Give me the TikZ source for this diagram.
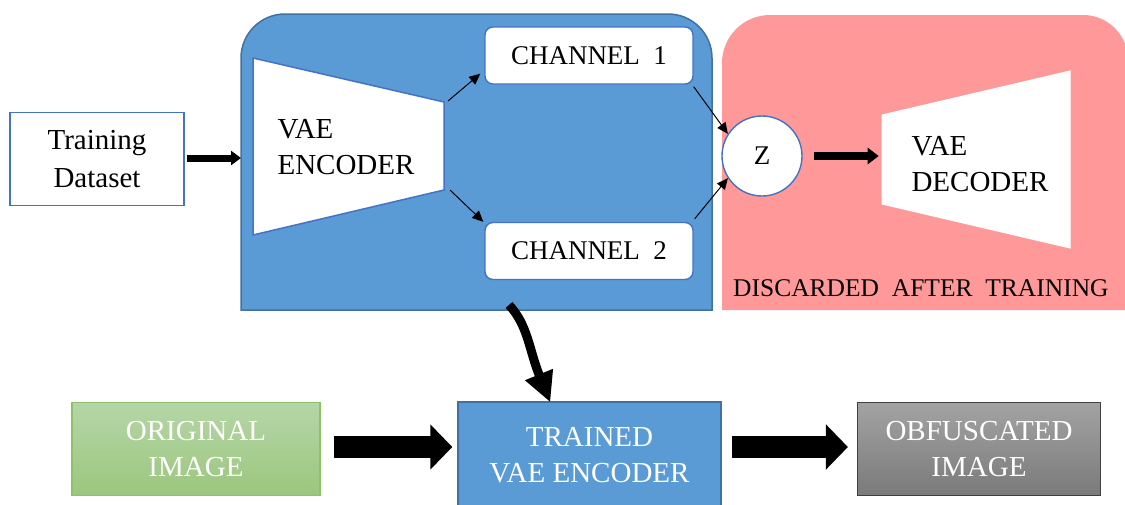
\documentclass[tikz,border=0pt]{standalone}
\usepackage{fontspec}
\setmainfont{Liberation Serif}
\usetikzlibrary{arrows.meta,calc}

\definecolor{encfill}{HTML}{5B9BD5}
\definecolor{encline}{HTML}{41719C}
\definecolor{boxline}{HTML}{4472C4}
\definecolor{decfill}{HTML}{FF9999}
\definecolor{greentop}{HTML}{B5D6A7}
\definecolor{greenbot}{HTML}{9CC67E}
\definecolor{greenline}{HTML}{8CC36A}
\definecolor{greytop}{HTML}{A3A3A3}
\definecolor{greybot}{HTML}{7A7A7A}

\tikzset{
  bigtext/.style={font=\rmfamily\fontsize{29}{36}\selectfont},
  chantext/.style={font=\rmfamily\fontsize{27}{30}\selectfont},
  whitebox/.style={draw=boxline, line width=1.6pt, fill=white, inner sep=0pt},
  chanbox/.style={draw=boxline, line width=1.4pt, fill=white, rounded corners=8pt,
    minimum width=208pt, minimum height=57pt, chantext},
  stage/.style={line width=1.4pt, inner sep=0pt, minimum width=248pt, minimum height=93pt,
    text=white, align=center, bigtext},
  thin arrow/.style={line width=1pt, -{Triangle[length=11pt,width=10pt]}},
  mid arrow/.style={line width=7pt, -{Triangle[length=10pt,width=14pt]}},
  fat arrow/.style={line width=22pt, -{Triangle[length=22pt,width=44pt]}},
  bend arrow/.style={line width=9pt, -{Triangle[length=30pt,width=28pt]}},
}

\begin{document}
\begin{tikzpicture}[x=1pt, y=-1pt]
\useasboundingbox (0,0) rectangle (1125,504);

% encoder panel (blue, rounded top corners)
\path[fill=encfill, draw=encline, line width=1.5pt]
  (241,310) -- (241,58) arc[start angle=180, end angle=270, radius=44]
  -- (668,14) arc[start angle=270, end angle=360, radius=44] -- (712,310) -- cycle;

% decoder panel (red, discarded after training)
\path[fill=decfill]
  (722,310) -- (722,63) arc[start angle=180, end angle=270, radius=48]
  -- (1083,15) arc[start angle=270, end angle=360, radius=45] -- (1128,310) -- cycle;

% training data
\node[whitebox, minimum width=174pt, minimum height=93pt, align=center,
  font=\rmfamily\fontsize{29}{38}\selectfont]
  (train) at (97,159) {Training\\Dataset};

% encoder trapezoid
\draw[fill=white, draw=boxline, line width=1.5pt]
  (253,58) -- (444,102) -- (444,190) -- (253,235) -- cycle;
\coordinate (encin) at (241,158);
\coordinate (encTR) at (448,101);
\coordinate (encBR) at (450,190);
\node[bigtext, anchor=west, align=left] (enctext) at (274,147) {VAE\\ENCODER};

% channels
\node[chanbox] (ch1) at (589,55.5) {CHANNEL\ \ 1};
\node[chanbox] (ch2) at (589,251) {CHANNEL\ \ 2};

% latent
\node[circle, draw=boxline, line width=1.4pt, fill=white, minimum size=80pt, inner sep=0pt,
  chantext] (z) at (762,156) {Z};

% decoder trapezoid
\draw[fill=white, draw=white, line width=1pt]
  (882,115) -- (1070,71) -- (1070,248) -- (882,204) -- cycle;
\node[bigtext, anchor=west, align=left] (dectext) at (908,164) {VAE\\DECODER};

\node[font=\rmfamily\fontsize{25.5}{28}\selectfont, anchor=base west, inner sep=0pt]
  (discard) at (733,296) {DISCARDED\ \ AFTER\ \ TRAINING};

% connectors in the training pipeline
\draw[mid arrow] ($(train.east)+(2,-1)$) -- (encin);
\draw[thin arrow] (encTR) -- ($(ch1.south west)+(-4,-11)$);
\draw[thin arrow] (encBR) -- ($(ch2.north west)+(-1,0)$);
\draw[thin arrow] ($(ch1.south east)+(0,2)$) -- (z.147);
\draw[thin arrow] ($(ch2.north east)+(1,-3)$) -- (z.213);
\draw[line width=8pt, -{Triangle[length=11pt,width=16pt]}] ($(z.east)+(11,0)$) -- ++(65,0) coordinate (decin);

% deployment pipeline
\node[stage, draw=greenline, top color=greentop, bottom color=greenbot]
  (orig) at (196,449) {ORIGINAL\\IMAGE};
\node[stage, draw=encline, fill=encfill, minimum width=263pt, minimum height=106pt]
  (trained) at (589.5,455) {TRAINED\\VAE ENCODER};
\node[stage, draw=black!75, line width=1.2pt, top color=greytop, bottom color=greybot, minimum width=243pt]
  (obf) at (979,449) {OBFUSCATED\\IMAGE};

\coordinate (bendstart) at (509,305);
\coordinate (bendend) at ($(trained.north west)+(93,1)$);
\draw[bend arrow] (bendstart) .. controls (528,325) and (529,350) .. (bendend);

\draw[fat arrow] ($(orig.east)+(13,-2)$) -- ($(trained.west)+(-5,-8)$);
\draw[fat arrow] ($(trained.east)+(10,-8)$) -- ($(obf.west)+(-9,-2)$);

\end{tikzpicture}
\end{document}
